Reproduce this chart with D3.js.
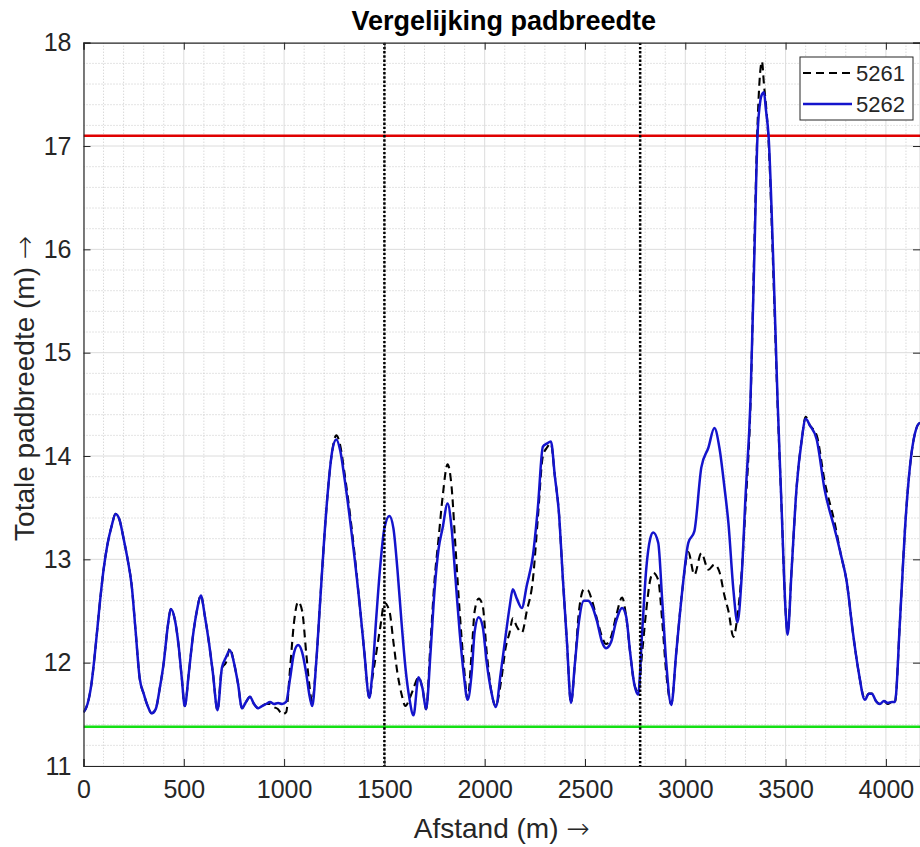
<!DOCTYPE html>
<html>
<head>
<meta charset="utf-8">
<script src="https://cdn.jsdelivr.net/npm/d3@7"></script>
<style>
  html, body { margin: 0; padding: 0; background: #ffffff; }
  svg { display: block; font-family: "Liberation Sans", Arial, Helvetica, sans-serif; }
</style>
</head>
<body>
<svg id="chart" width="920" height="847"></svg>
<script>
// Distance along the track (m)
const distance = [
  0, 20, 40, 60, 80, 100, 120, 140, 160, 180, 200, 220, 240, 260, 280, 300, 320, 340, 360, 380,
  400, 420, 435, 455, 475, 490, 505, 525, 545, 565, 585, 605, 625, 645, 668, 690, 710, 730, 750, 770,
  790, 810, 830, 850, 870, 890, 910, 930, 950, 970, 990, 1010, 1030, 1050, 1070, 1090, 1110, 1125, 1140, 1160,
  1180, 1200, 1220, 1240, 1260, 1280, 1300, 1340, 1380, 1400, 1425, 1440, 1460, 1480, 1500, 1525, 1545, 1565, 1585, 1605,
  1625, 1645, 1670, 1690, 1708, 1730, 1750, 1770, 1790, 1815, 1835, 1855, 1875, 1895, 1915, 1935, 1950, 1970, 1990, 2010,
  2035, 2055, 2080, 2105, 2125, 2140, 2160, 2185, 2210, 2240, 2265, 2290, 2310, 2330, 2350, 2370, 2390, 2410, 2430, 2450,
  2470, 2495, 2515, 2535, 2560, 2585, 2605, 2630, 2655, 2685, 2705, 2725, 2745, 2765, 2785, 2805, 2825, 2840, 2865, 2885,
  2905, 2930, 2955, 2985, 3015, 3045, 3080, 3115, 3145, 3170, 3195, 3215, 3240, 3260, 3280, 3300, 3325, 3345, 3360, 3375,
  3382, 3392, 3402, 3415, 3440, 3460, 3480, 3500, 3510, 3530, 3555, 3580, 3600, 3620, 3655, 3695, 3745, 3775, 3805, 3835,
  3865, 3895, 3915, 3930, 3950, 3970, 3990, 4010, 4030, 4045, 4070, 4095, 4120, 4145, 4170, 4190
];

// Total path width, run 5262 (m)
const width5262 = [
  11.52, 11.60, 11.80, 12.15, 12.55, 12.90, 13.15, 13.32, 13.44, 13.38, 13.20, 13.00, 12.75, 12.30, 11.85, 11.70, 11.58, 11.51, 11.55, 11.75,
  12.00, 12.35, 12.52, 12.42, 12.15, 11.85, 11.58, 11.90, 12.25, 12.50, 12.65, 12.45, 12.20, 11.90, 11.54, 11.95, 12.05, 12.12, 12.00, 11.80,
  11.56, 11.62, 11.67, 11.60, 11.56, 11.58, 11.60, 11.62, 11.60, 11.61, 11.60, 11.62, 11.85, 12.10, 12.17, 12.10, 11.90, 11.70, 11.58, 12.00,
  12.60, 13.20, 13.70, 14.05, 14.16, 14.05, 13.80, 13.20, 12.50, 12.10, 11.66, 11.90, 12.45, 12.95, 13.30, 13.42, 13.30, 12.90, 12.40, 11.95,
  11.65, 11.49, 11.86, 11.75, 11.55, 12.10, 12.70, 13.10, 13.30, 13.54, 13.30, 12.80, 12.30, 11.90, 11.64, 11.90, 12.30, 12.44, 12.35, 12.00,
  11.70, 11.57, 11.90, 12.27, 12.55, 12.71, 12.62, 12.53, 12.75, 13.03, 13.50, 14.09, 14.12, 14.14, 13.80, 13.45, 12.80, 12.20, 11.61, 12.00,
  12.40, 12.60, 12.60, 12.55, 12.40, 12.20, 12.14, 12.20, 12.40, 12.53, 12.45, 12.10, 11.80, 11.69, 12.30, 12.90, 13.20, 13.26, 13.16, 12.60,
  12.00, 11.59, 12.10, 12.70, 13.16, 13.27, 13.89, 14.08, 14.27, 14.08, 13.70, 13.35, 12.70, 12.39, 12.80, 13.60, 14.54, 16.00, 17.10, 17.45,
  17.50, 17.52, 17.35, 17.10, 15.80, 14.54, 13.50, 12.50, 12.27, 12.90, 13.70, 14.15, 14.36, 14.30, 14.16, 13.67, 13.29, 13.05, 12.78, 12.30,
  11.90, 11.64, 11.70, 11.70, 11.63, 11.60, 11.63, 11.61, 11.62, 11.62, 12.40, 13.29, 13.90, 14.22, 14.32, 14.30
];

// Total path width, run 5261 (m)
const width5261 = [
  11.52, 11.60, 11.80, 12.15, 12.55, 12.90, 13.15, 13.32, 13.44, 13.38, 13.20, 13.00, 12.75, 12.30, 11.85, 11.70, 11.58, 11.51, 11.55, 11.75,
  12.00, 12.35, 12.52, 12.42, 12.15, 11.85, 11.58, 11.90, 12.25, 12.50, 12.65, 12.45, 12.20, 11.90, 11.54, 11.95, 12.00, 12.14, 12.00, 11.80,
  11.56, 11.62, 11.67, 11.60, 11.56, 11.58, 11.60, 11.60, 11.57, 11.55, 11.50, 11.52, 11.95, 12.40, 12.59, 12.50, 12.10, 11.80, 11.62, 12.00,
  12.60, 13.20, 13.70, 14.05, 14.20, 14.10, 13.85, 13.25, 12.50, 12.10, 11.66, 11.85, 12.10, 12.35, 12.58, 12.50, 12.20, 11.90, 11.70, 11.58,
  11.65, 11.75, 11.86, 11.75, 11.55, 12.20, 12.80, 13.20, 13.60, 13.92, 13.70, 13.10, 12.50, 12.00, 11.65, 12.10, 12.50, 12.62, 12.55, 12.10,
  11.70, 11.58, 11.80, 12.15, 12.30, 12.43, 12.35, 12.29, 12.50, 12.80, 13.40, 14.00, 14.08, 14.12, 13.80, 13.45, 12.80, 12.20, 11.61, 12.00,
  12.50, 12.71, 12.70, 12.60, 12.42, 12.25, 12.18, 12.25, 12.45, 12.63, 12.45, 12.10, 11.80, 11.72, 12.10, 12.50, 12.80, 12.87, 12.80, 12.40,
  11.90, 11.60, 12.10, 12.70, 13.07, 12.85, 13.06, 12.90, 12.95, 12.88, 12.65, 12.50, 12.25, 12.45, 12.85, 13.50, 14.50, 16.10, 17.20, 17.75,
  17.82, 17.60, 17.40, 17.05, 15.70, 14.50, 13.50, 12.50, 12.30, 12.90, 13.70, 14.15, 14.38, 14.30, 14.20, 13.75, 13.35, 13.05, 12.78, 12.30,
  11.90, 11.65, 11.70, 11.70, 11.63, 11.60, 11.63, 11.60, 11.62, 11.62, 12.40, 13.29, 13.90, 14.22, 14.32, 14.30
];

// Reference levels and section markers
const upperLimit = 17.1;
const lowerLimit = 11.38;
const sectionMarks = [1500, 2775];

// Axis ticks
const xTicks = [0, 500, 1000, 1500, 2000, 2500, 3000, 3500, 4000];
const yTicks = [11, 12, 13, 14, 15, 16, 17, 18];
const seriesNames = ["5261", "5262"];

const svg = d3.select("#chart");
const plotLeft = 83.5, plotRight = 920, plotTop = 42.7, plotBottom = 766;
const axisColor = "#262626";

const x = d3.scaleLinear().domain([0, 4170]).range([plotLeft, plotRight]);
const y = d3.scaleLinear().domain([11, 18]).range([plotBottom, plotTop]);

svg.append("defs").append("clipPath").attr("id", "plotClip")
  .append("rect").attr("x", plotLeft).attr("y", plotTop)
  .attr("width", plotRight - plotLeft).attr("height", plotBottom - plotTop);

const plot = svg.append("g").attr("clip-path", "url(#plotClip)");

// Minor grid (dotted)
plot.append("g").selectAll("line").data(d3.range(100, 4200, 100).filter(v => v % 500 !== 0))
  .join("line")
  .attr("x1", d => x(d)).attr("x2", d => x(d)).attr("y1", plotTop).attr("y2", plotBottom)
  .attr("stroke", "#c8c8c8").attr("stroke-width", 1).attr("stroke-dasharray", "1,2");
plot.append("g").selectAll("line").data(d3.range(11.2, 18, 0.2).filter(v => Math.abs(v - Math.round(v)) > 0.05))
  .join("line")
  .attr("x1", plotLeft).attr("x2", plotRight).attr("y1", d => y(d)).attr("y2", d => y(d))
  .attr("stroke", "#c8c8c8").attr("stroke-width", 1).attr("stroke-dasharray", "1,2");

// Major grid
plot.append("g").selectAll("line").data(xTicks)
  .join("line")
  .attr("x1", d => x(d)).attr("x2", d => x(d)).attr("y1", plotTop).attr("y2", plotBottom)
  .attr("stroke", "#dcdcdc").attr("stroke-width", 1);
plot.append("g").selectAll("line").data(yTicks)
  .join("line")
  .attr("x1", plotLeft).attr("x2", plotRight).attr("y1", d => y(d)).attr("y2", d => y(d))
  .attr("stroke", "#dcdcdc").attr("stroke-width", 1);

// Limit lines
plot.append("line")
  .attr("x1", plotLeft).attr("x2", plotRight).attr("y1", y(upperLimit)).attr("y2", y(upperLimit))
  .attr("stroke", "#e00000").attr("stroke-width", 2.6);
plot.append("line")
  .attr("x1", plotLeft).attr("x2", plotRight).attr("y1", y(lowerLimit)).attr("y2", y(lowerLimit))
  .attr("stroke", "#14e014").attr("stroke-width", 2.6);

// Series
const widthLine = d3.line()
  .x((d, i) => x(distance[i]))
  .y(d => y(d))
  .curve(d3.curveMonotoneX);
plot.append("path").datum(width5261)
  .attr("d", widthLine)
  .attr("fill", "none").attr("stroke", "#000000").attr("stroke-width", 2.1)
  .attr("stroke-dasharray", "8,5");
plot.append("path").datum(width5262)
  .attr("d", widthLine)
  .attr("fill", "none").attr("stroke", "#1414cc").attr("stroke-width", 2.5)
  .attr("stroke-linejoin", "round");

// Section markers
plot.append("g").selectAll("line").data(sectionMarks)
  .join("line")
  .attr("x1", d => x(d)).attr("x2", d => x(d)).attr("y1", plotTop).attr("y2", plotBottom)
  .attr("stroke", "#000000").attr("stroke-width", 2.5).attr("stroke-dasharray", "2.4,1.8");

// Axes box
const xAxisBottom = d3.axisBottom(x).tickValues(xTicks).tickSize(-7).tickPadding(14).tickFormat(d3.format("d"));
const xAxisTop = d3.axisTop(x).tickValues(xTicks).tickSize(-7).tickFormat("");
const yAxisLeft = d3.axisLeft(y).tickValues(yTicks).tickSize(-7).tickPadding(12).tickFormat(d3.format("d"));
const yAxisRight = d3.axisRight(y).tickValues(yTicks).tickSize(-7).tickFormat("");

function styleAxis(g) {
  g.select(".domain").attr("stroke", axisColor).attr("stroke-width", 1.2);
  g.selectAll(".tick line").attr("stroke", axisColor).attr("stroke-width", 1);
  g.selectAll(".tick text").attr("fill", axisColor).attr("font-size", 25)
    .attr("font-family", "'Liberation Sans', Arial, sans-serif");
}

svg.append("g").attr("transform", `translate(0,${plotBottom})`).call(xAxisBottom).call(styleAxis);
svg.append("g").attr("transform", `translate(0,${plotTop})`).call(xAxisTop).call(styleAxis);
svg.append("g").attr("transform", `translate(${plotLeft},0)`).call(yAxisLeft).call(styleAxis);
svg.append("g").attr("transform", `translate(${plotRight},0)`).call(yAxisRight).call(styleAxis);

// Title and axis labels
svg.append("text")
  .attr("x", (plotLeft + plotRight) / 2 + 2).attr("y", 30)
  .attr("text-anchor", "middle").attr("font-size", 27).attr("font-weight", "bold")
  .attr("fill", "#000000")
  .text("Vergelijking padbreedte");

function axisLabel(sel, label) {
  sel.append("tspan").text(label + " ");
  sel.append("tspan").attr("font-family", "'DejaVu Sans', sans-serif").attr("font-weight", 200).text("\u2192");
}

svg.append("text")
  .attr("x", (plotLeft + plotRight) / 2).attr("y", 838)
  .attr("text-anchor", "middle").attr("font-size", 28).attr("fill", axisColor)
  .call(axisLabel, "Afstand (m)");

svg.append("text")
  .attr("transform", `translate(34,${(plotTop + plotBottom) / 2 - 16}) rotate(-90)`)
  .attr("text-anchor", "middle").attr("font-size", 28).attr("fill", axisColor)
  .call(axisLabel, "Totale padbreedte (m)");

// Legend
const legend = svg.append("g").attr("transform", "translate(800,57)");
legend.append("rect").attr("width", 113).attr("height", 63)
  .attr("fill", "#ffffff").attr("stroke", axisColor).attr("stroke-width", 1);
const legendStyles = [
  { stroke: "#000000", dash: "8,5", width: 2.1 },
  { stroke: "#1414cc", dash: null, width: 2.5 }
];
seriesNames.forEach((name, i) => {
  const yy = 16 + i * 31;
  legend.append("line")
    .attr("x1", 3).attr("x2", 52).attr("y1", yy).attr("y2", yy)
    .attr("stroke", legendStyles[i].stroke).attr("stroke-width", legendStyles[i].width)
    .attr("stroke-dasharray", legendStyles[i].dash);
  legend.append("text")
    .attr("x", 56).attr("y", yy + 8)
    .attr("font-size", 22).attr("fill", axisColor)
    .text(name);
});
</script>
</body>
</html>
